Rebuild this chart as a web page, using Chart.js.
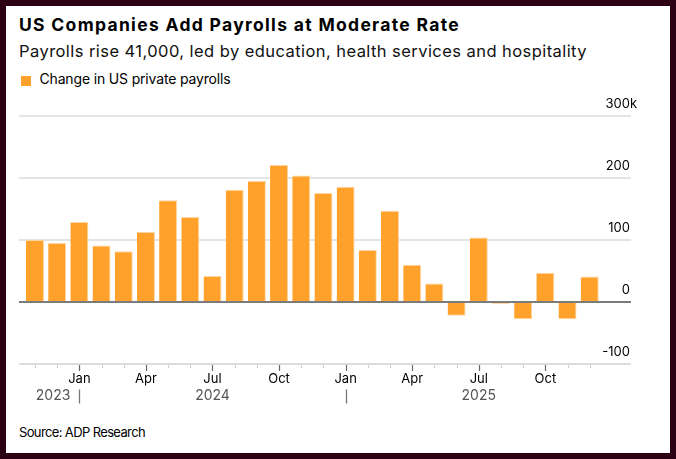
<!DOCTYPE html>
<html>
<head>
<meta charset="utf-8">
<script src="https://cdn.jsdelivr.net/npm/chart.js@4.4.1/dist/chart.umd.min.js"></script>
<style>
  html, body { margin: 0; padding: 0; }
  body { width: 676px; height: 459px; background: #2a0012; position: relative; overflow: hidden; font-family: Inter, "Liberation Sans", sans-serif; }
  #panel { position: absolute; left: 6px; top: 6px; width: 664px; height: 447px; background: #fff; }
  .t { position: absolute; white-space: nowrap; line-height: 1; color: #000; }
  #title { left: 19px; top: 15.9px; font-size: 17.5px; font-weight: 700; }
  #subtitle { left: 19px; top: 43px; font-size: 16.5px; color: #111; }
  #legend { left: 39.5px; top: 72px; font-size: 14px; }
  #swatch { position: absolute; left: 21px; top: 75.5px; width: 10px; height: 10px; background: #ffa12b; }
  #source { left: 19px; top: 425.5px; font-size: 13px; }
  #wrap { position: absolute; left: 0; top: 0; width: 676px; height: 459px; }
</style>
</head>
<body>
<div id="panel"></div>
<div class="t" id="title">US Companies Add Payrolls at Moderate Rate</div>
<div class="t" id="subtitle">Payrolls rise 41,000, led by education, health services and hospitality</div>
<div id="swatch"></div>
<div class="t" id="legend">Change in US private payrolls</div>
<div class="t" id="source">Source: ADP Research</div>
<div id="wrap"><canvas id="c"></canvas></div>
<script>
// ---- data ----
const months = ['Nov','Dec',
  'Jan','Feb','Mar','Apr','May','Jun','Jul','Aug','Sep','Oct','Nov','Dec',
  'Jan','Feb','Mar','Apr','May','Jun','Jul','Aug','Sep','Oct','Nov','Dec'];
const years = [2023,2023,
  2024,2024,2024,2024,2024,2024,2024,2024,2024,2024,2024,2024,
  2025,2025,2025,2025,2025,2025,2025,2025,2025,2025,2025,2025];
const payrolls = [100, 95, 129, 91, 82, 113, 164, 137, 42, 181, 195, 221, 204,
  176, 186, 84, 147, 60, 30, -22, 104, -3, -28, 47, -28, 41];
const tickMonths = ['Jan','Apr','Jul','Oct'];
const yTicks = [-100, 0, 100, 200, 300];
const seriesName = 'Change in US private payrolls';

// ---- fit HTML text widths to reference ----
function fit(id, target) {
  const el = document.getElementById(id);
  el.style.letterSpacing = '0px';
  const w = el.getBoundingClientRect().width;
  const n = el.textContent.length;
  el.style.letterSpacing = ((target - w) / n).toFixed(3) + 'px';
}
fit('title', 441);
fit('subtitle', 568);
fit('legend', 191);
fit('source', 126);

const FONT = 'Inter, "Liberation Sans", sans-serif';

const deco = {
  id: 'deco',
  afterDatasetsDraw(chart) {
    const { ctx, chartArea: a, scales: { y } } = chart;
    const y0 = Math.round(y.getPixelForValue(0));
    ctx.save();
    ctx.strokeStyle = '#7b7b7b';
    ctx.lineWidth = 2;
    ctx.beginPath(); ctx.moveTo(a.left, y0); ctx.lineTo(a.right, y0); ctx.stroke();
    ctx.restore();
  },
  afterDraw(chart) {
    const { ctx, chartArea: a, scales: { x, y } } = chart;
    ctx.save();
    // x tick marks
    months.forEach((m, i) => {
      const px = Math.round(x.getPixelForValue(i)) + 0.5;
      const major = tickMonths.includes(m);
      ctx.strokeStyle = major ? '#6a6a6a' : '#cfcfcf';
      ctx.lineWidth = 1.2;
      ctx.beginPath();
      ctx.moveTo(px, a.bottom + 1);
      ctx.lineTo(px, a.bottom + (major ? 7 : 4));
      ctx.stroke();
    });
    // y labels (right aligned, above grid lines)
    ctx.font = '13px ' + FONT;
    ctx.fillStyle = '#000';
    ctx.textBaseline = 'middle';
    const maxT = Math.max(...yTicks);
    yTicks.forEach(v => {
      const py = y.getPixelForValue(v) - 11.5;
      ctx.textAlign = 'right';
      ctx.fillText(String(v), a.right - 1, py);
      if (v === maxT) { ctx.textAlign = 'left'; ctx.fillText('k', a.right - 1, py); }
    });
    // year labels + separators
    ctx.font = '14px ' + FONT;
    ctx.fillStyle = '#555';
    const yy = 396;
    const uniq = [...new Set(years)];
    uniq.forEach(yr => {
      const idx = years.map((v, i) => v === yr ? i : -1).filter(i => i >= 0);
      const jan = idx.find(i => months[i] === 'Jan');
      const jul = idx.find(i => months[i] === 'Jul');
      if (jan !== undefined && jan > 0) {
        const sx = Math.round(x.getPixelForValue(jan)) + 0.5;
        ctx.strokeStyle = '#777'; ctx.lineWidth = 1.3;
        ctx.beginPath(); ctx.moveTo(sx, 389.5); ctx.lineTo(sx, 403.5); ctx.stroke();
      }
      if (jul !== undefined) {
        ctx.textAlign = 'center';
        ctx.fillText(String(yr), x.getPixelForValue(jul), yy);
      } else {
        const nextJan = years.findIndex(v => v === yr + 1);
        ctx.textAlign = 'right';
        ctx.fillText(String(yr), x.getPixelForValue(nextJan) - 9, yy);
      }
    });
    ctx.restore();
  }
};

new Chart(document.getElementById('c'), {
  type: 'bar',
  data: {
    datasets: [{
      label: seriesName,
      data: payrolls.map((v, i) => ({ x: i, y: v })),
      backgroundColor: '#ffa12b',
      borderColor: '#ffd6a0',
      borderWidth: { top: 1, bottom: 1, right: 1, left: 0 },
      borderSkipped: 'start',
      barPercentage: 0.811,
      categoryPercentage: 1
    }]
  },
  options: {
    responsive: true,
    maintainAspectRatio: false,
    animation: false,
    events: [],
    layout: { padding: { left: 19, right: 45, top: 116, bottom: 0 } },
    plugins: { legend: { display: false }, tooltip: { enabled: false }, title: { display: false } },
    scales: {
      x: {
        type: 'linear',
        offset: false,
        min: -0.72,
        max: 26.86,
        grid: { display: false, drawTicks: false, offset: false },
        border: { display: false },
        afterBuildTicks: s => { s.ticks = months.map((m, i) => ({ value: i })); },
        afterFit: s => { s.height = 95; },
        ticks: {
          autoSkip: false,
          maxRotation: 0,
          padding: 7.5,
          color: '#000',
          font: { family: FONT, size: 13 },
          callback: v => tickMonths.includes(months[v]) ? months[v] : ''
        }
      },
      y: {
        type: 'linear',
        min: -100,
        max: 300,
        afterBuildTicks: s => { s.ticks = yTicks.map(v => ({ value: v })); },
        afterFit: s => { s.width = 0; },
        ticks: { display: false },
        border: { display: false },
        grid: {
          drawTicks: false,
          lineWidth: 2,
          color: c => c.tick && c.tick.value === 0 ? 'rgba(0,0,0,0)' : (c.tick && c.tick.value === -100 ? '#dcdcdc' : '#e4e4e4')
        }
      }
    }
  },
  plugins: [deco]
});
</script>
</body>
</html>
